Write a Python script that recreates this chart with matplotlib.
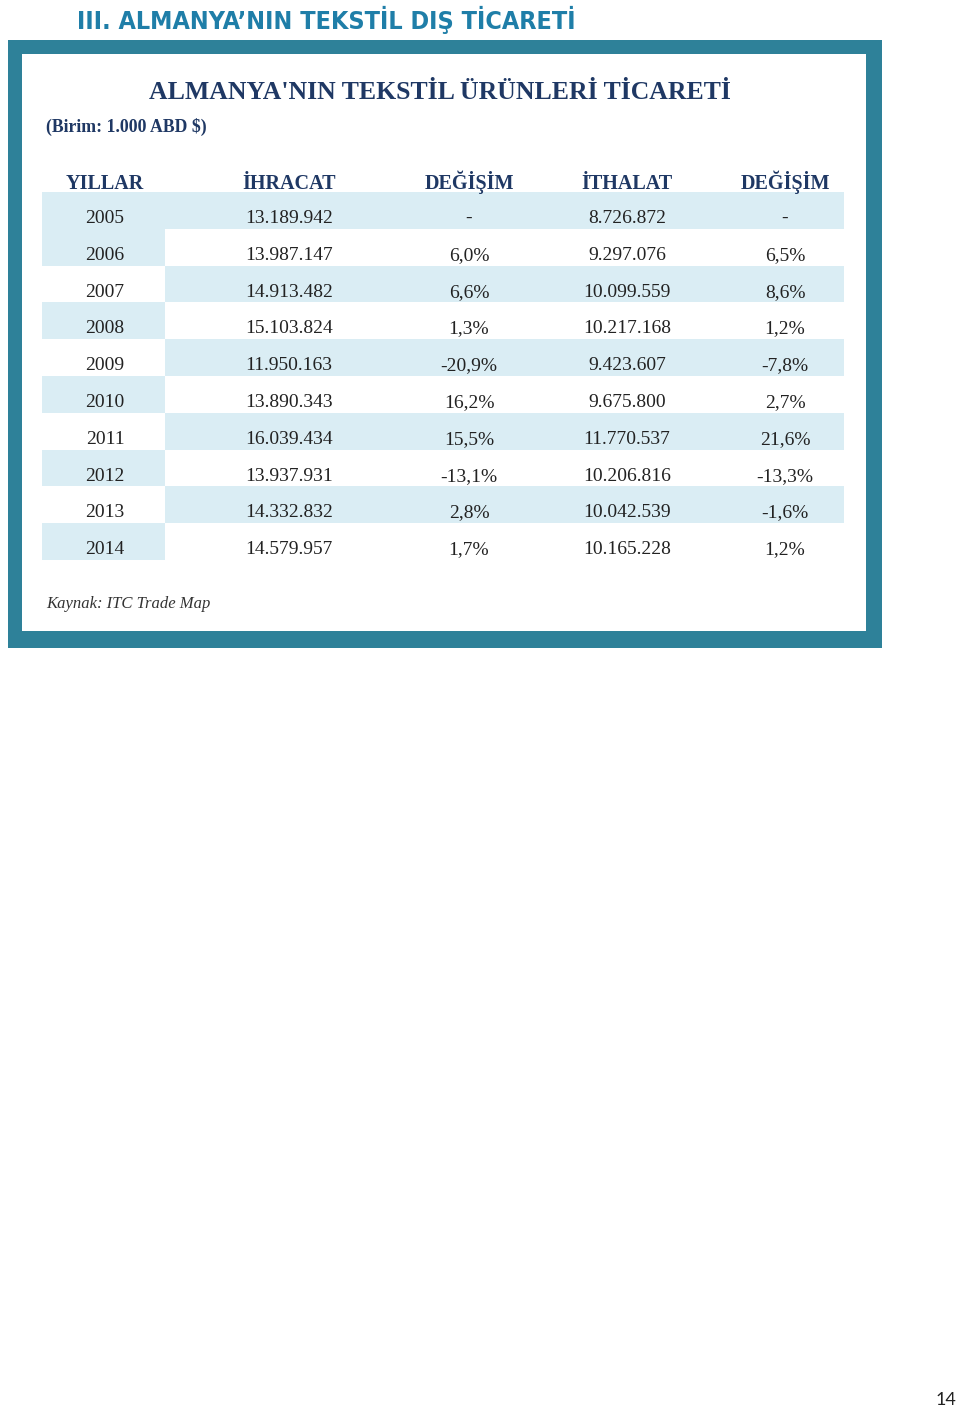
import matplotlib
matplotlib.use("Agg")
import matplotlib.pyplot as plt
from matplotlib.patches import Rectangle

# table data
years = ["2005", "2006", "2007", "2008", "2009", "2010", "2011", "2012", "2013", "2014"]
ihracat = ["13.189.942", "13.987.147", "14.913.482", "15.103.824", "11.950.163",
           "13.890.343", "16.039.434", "13.937.931", "14.332.832", "14.579.957"]
ihr_degisim = ["-", "6,0%", "6,6%", "1,3%", "-20,9%", "16,2%", "15,5%", "-13,1%", "2,8%", "1,7%"]
ithalat = ["8.726.872", "9.297.076", "10.099.559", "10.217.168", "9.423.607",
           "9.675.800", "11.770.537", "10.206.816", "10.042.539", "10.165.228"]
ith_degisim = ["-", "6,5%", "8,6%", "1,2%", "-7,8%", "2,7%", "21,6%", "-13,3%", "-1,6%", "1,2%"]
headers = ["YILLAR", "İHRACAT", "DEĞİŞİM", "İTHALAT", "DEĞİŞİM"]

teal = "#2e8199"
band = "#daedf4"
navy = "#1f3864"
ink = "#222222"

fig = plt.figure(figsize=(9.6, 14.1), dpi=100)
ax = fig.add_axes([0, 0, 1, 1])
ax.set_xlim(0, 960)
ax.set_ylim(1410, 0)
ax.axis("off")

# page heading
ax.text(77, 29, "III. ALMANYA’NIN TEKSTİL DIŞ TİCARETİ", fontsize=18, fontweight="bold",
        family="DejaVu Sans", stretch="condensed", color="#1f7ea8", va="baseline", ha="left")

# frame
ax.add_patch(Rectangle((8, 40), 874, 608, color=teal, lw=0))
ax.add_patch(Rectangle((22, 54), 844, 577, color="white", lw=0))

ax.text(440, 99, "ALMANYA'NIN TEKSTİL ÜRÜNLERİ TİCARETİ", fontsize=18.5, fontweight="bold",
        family="Liberation Serif", color=navy, va="baseline", ha="center")
ax.text(46, 132, "(Birim: 1.000 ABD $)", fontsize=12.8, fontweight="bold",
        family="Liberation Serif", color=navy, va="baseline", ha="left")

col_x = [105, 289, 469, 627, 785]
for x, h in zip(col_x, headers):
    ax.text(x, 189, h, fontsize=14.5, fontweight="bold", family="Liberation Serif",
            color=navy, va="baseline", ha="center")

top, row_h = 192, 36.8
for i, yr in enumerate(years):
    y0 = top + i * row_h
    year_blue = i == 0 or i % 2 == 1
    data_blue = i % 2 == 0
    if year_blue:
        ax.add_patch(Rectangle((42, y0), 123, row_h, color=band, lw=0))
    if data_blue:
        ax.add_patch(Rectangle((165, y0), 679, row_h, color=band, lw=0))
    vals = [yr, ihracat[i], ihr_degisim[i], ithalat[i], ith_degisim[i]]
    for x, v in zip(col_x, vals):
        ax.text(x, y0 + 31, v, fontsize=14, family="Liberation Serif", color=ink,
                va="baseline", ha="center")

ax.text(46, 608, "Kaynak: ITC Trade Map", fontsize=12, style="italic",
        family="Liberation Serif", color="#333333", va="baseline", ha="left")

ax.text(946, 1400, "14", fontsize=13, family="Lato", color="#222222", va="center", ha="center")

fig.savefig("out.png", dpi=100)
